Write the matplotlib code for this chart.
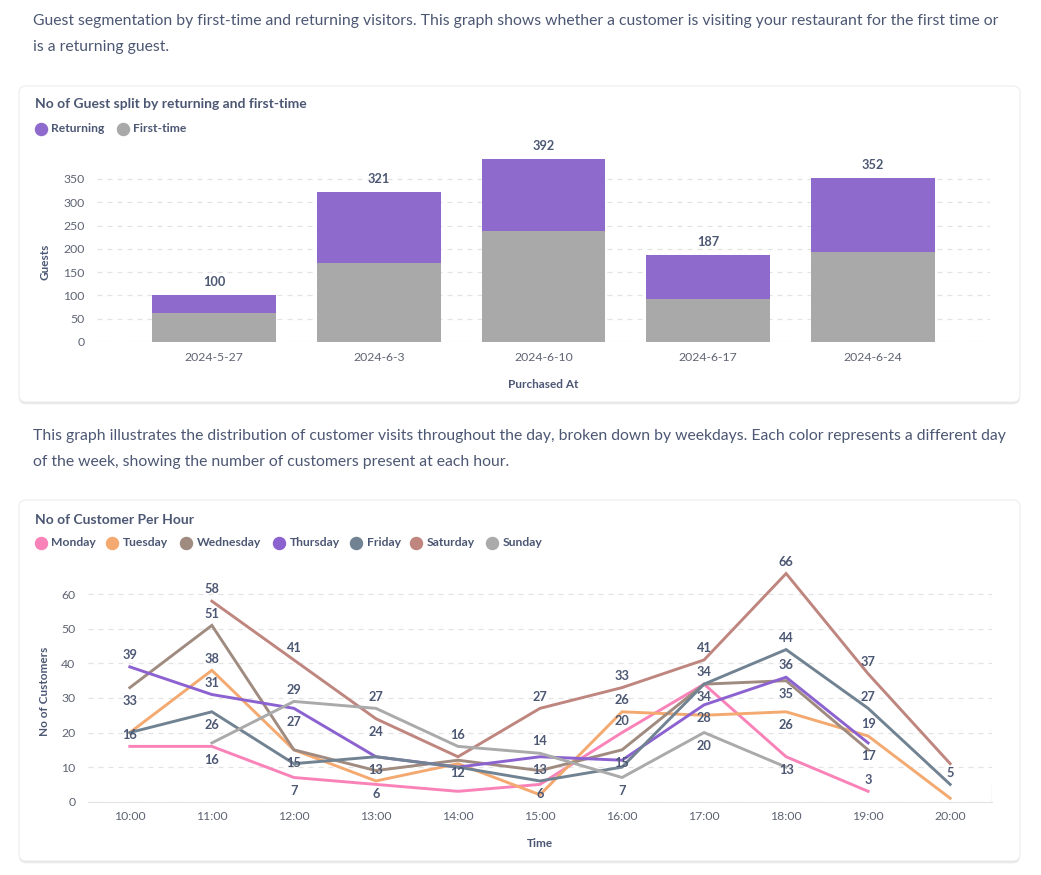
import matplotlib
matplotlib.use("Agg")
import matplotlib.pyplot as plt
from matplotlib.patches import FancyBboxPatch
import numpy as np

plt.rcParams['font.family'] = ['Lato', 'DejaVu Sans']

W, H = 1041, 875
TXT = '#4C5773'
TICK = '#5E6473'
GRID = '#E3E3E3'

# ---- data: guests per week ----
weeks = ['2024-5-27', '2024-6-3', '2024-6-10', '2024-6-17', '2024-6-24']
first_time = [62, 170, 238, 92, 193]
returning = [38, 151, 154, 95, 159]

# ---- data: customers per hour ----
hours = ['10:00', '11:00', '12:00', '13:00', '14:00', '15:00',
         '16:00', '17:00', '18:00', '19:00', '20:00']
days = ['Monday', 'Tuesday', 'Wednesday', 'Thursday', 'Friday', 'Saturday', 'Sunday']
monday = [16, 16, 7, 5, 3, 5, 20, 34, 13, 3, None]
tuesday = [20, 38, 15, 6, 11, 2, 26, 25, 26, 19, 1]
wednesday = [33, 51, 15, 9, 12, 9, 15, 34, 35, 15, None]
thursday = [39, 31, 27, 13, 10, 13, 12, 28, 36, 17, None]
friday = [20, 26, 11, 13, 10, 6, 10, 34, 44, 27, 5]
saturday = [None, 58, 41, 24, 13, 27, 33, 41, 66, 37, 11]
sunday = [None, 17, 29, 27, 16, 14, 7, 20, 10, None, None]
series = [monday, tuesday, wednesday, thursday, friday, saturday, sunday]
day_colors = ['#F983B8', '#F3A96F', '#A08B80', '#8C62D0', '#718392', '#BF857F', '#AAAAAA']

# which points get a value label: (day index, hour index, above?)
shown_labels = [
    (3, 0, True), (2, 0, False), (0, 0, True),
    (5, 1, True), (2, 1, True), (1, 1, True), (3, 1, True), (4, 1, False), (0, 1, False),
    (5, 2, True), (6, 2, True), (3, 2, False), (2, 2, False), (0, 2, False),
    (6, 3, True), (5, 3, False), (3, 3, False), (1, 3, False),
    (6, 4, True), (2, 4, False),
    (5, 5, True), (6, 5, True), (3, 5, False), (4, 5, False),
    (5, 6, True), (1, 6, True), (0, 6, True), (2, 6, False), (6, 6, False),
    (5, 7, True), (0, 7, True), (2, 7, False), (3, 7, False), (6, 7, False),
    (5, 8, True), (4, 8, True), (3, 8, True), (2, 8, False), (1, 8, False), (0, 8, False),
    (5, 9, True), (4, 9, True), (1, 9, True), (3, 9, False), (0, 9, True),
    (4, 10, True),
]

fig = plt.figure(figsize=(W / 100, H / 100), dpi=100)
fig.patch.set_facecolor('white')

# background layer in pixel coordinates
bg = fig.add_axes([0, 0, 1, 1], zorder=0)
bg.set_xlim(0, W)
bg.set_ylim(H, 0)
bg.axis('off')


def card(y0, y1):
    for off, a in [(2.5, 0.05), (1.5, 0.06)]:
        bg.add_patch(FancyBboxPatch((19, y0 + off), 1001, y1 - y0, boxstyle="round,pad=0,rounding_size=7",
                                    fc='#000000', ec='none', alpha=a))
    bg.add_patch(FancyBboxPatch((19, y0), 1001, y1 - y0, boxstyle="round,pad=0,rounding_size=7",
                                fc='white', ec='#EDEDED', lw=0.8))


card(86, 402)
card(500, 861)

bg.text(33, 21, "Guest segmentation by first-time and returning visitors. This graph shows whether a customer "
        "is visiting your restaurant for the first time or", fontsize=11.38, color=TXT, va='center')
bg.text(33, 47, "is a returning guest.", fontsize=11.38, color=TXT, va='center')
bg.text(33, 436, "This graph illustrates the distribution of customer visits throughout the day, broken down by "
        "weekdays. Each color represents a different day", fontsize=11.35, color=TXT, va='center')
bg.text(33, 462, "of the week, showing the number of customers present at each hour.",
        fontsize=11.35, color=TXT, va='center')

bg.text(35, 104.5, "No of Guest split by returning and first-time", fontsize=10, fontweight='bold',
        color=TXT, va='center')
bg.text(35, 519.5, "No of Customer Per Hour", fontsize=10, fontweight='bold', color=TXT, va='center')

# legends
for x, lab, c in [(41, 'Returning', '#8E6ACC'), (123, 'First-time', '#A9A9A9')]:
    bg.scatter([x], [128.5], s=75, color=c, zorder=3)
    bg.text(x + 10.5, 128.5, lab, fontsize=8.7, fontweight='bold', color=TXT, va='center')

leg_x = [41, 112, 186, 279, 356, 416, 492]
for x, lab, c in zip(leg_x, days, day_colors):
    bg.scatter([x], [543], s=75, color=c, zorder=3)
    bg.text(x + 10.5, 543, lab, fontsize=8.7, fontweight='bold', color=TXT, va='center')


def style_axes(ax):
    ax.set_facecolor('none')
    for s in ['top', 'right', 'left']:
        ax.spines[s].set_visible(False)
    ax.tick_params(axis='y', length=0, labelsize=8.8, labelcolor=TICK, pad=9)
    ax.tick_params(axis='x', length=0, labelsize=8.8, labelcolor=TICK, pad=7)
    ax.grid(axis='y', color=GRID, linestyle=(0, (4, 4)), linewidth=0.9)
    ax.set_axisbelow(True)


# ---- bar chart ----
ax1 = fig.add_axes([97 / W, 1 - 342 / H, 893 / W, 191 / H], zorder=1)
style_axes(ax1)
ax1.spines['bottom'].set_visible(False)
x = np.arange(len(weeks))
ax1.bar(x, first_time, width=0.75, color='#A9A9A9', zorder=2)
ax1.bar(x, returning, width=0.75, bottom=first_time, color='#8E6ACC', zorder=2)
totals = [a + b for a, b in zip(first_time, returning)]
for xi, t in zip(x, totals):
    ax1.annotate(str(t), (xi, t), xytext=(0, 9.5), textcoords='offset points', ha='center',
                 va='center', fontsize=9.2, fontweight='bold', color=TXT, annotation_clip=False)
ax1.set_xlim(-0.71, 4.71)
ax1.set_ylim(0, 410)
ax1.set_yticks(range(0, 351, 50))
ax1.set_xticks(x)
ax1.set_xticklabels(weeks)
ax1.set_ylabel('Guests', fontsize=8.5, fontweight='bold', color=TXT)
ax1.set_xlabel('Purchased At', fontsize=8.5, fontweight='bold', color=TXT, labelpad=12)
ax1.yaxis.set_label_coords(-0.052, 0.42)

# ---- line chart ----
ax2 = fig.add_axes([88 / W, 1 - 801.7 / H, 904 / W, 235.1 / H], zorder=1)
style_axes(ax2)
ax2.spines['bottom'].set_color('#E3E3E3')
hx = np.arange(len(hours))
for vals, c in zip(series, day_colors):
    y = np.array([np.nan if v is None else v for v in vals], dtype=float)
    ax2.plot(hx, y, color=c, linewidth=2.1, solid_joinstyle='miter', zorder=3)
for d, h, above in shown_labels:
    v = series[d][h]
    ax2.annotate(str(v), (h, v), xytext=(0, 8.5 if above else -9.5), textcoords='offset points',
                 ha='center', va='center', fontsize=9.2, fontweight='bold', color=TXT,
                 annotation_clip=False, zorder=5)
ax2.set_xlim(-0.51, 10.51)
ax2.set_ylim(0, 68)
ax2.set_yticks(range(0, 61, 10))
ax2.set_xticks(hx)
ax2.set_xticklabels(hours)
ax2.axvline(10.51, ymin=0, ymax=0.065, color='#E3E3E3', lw=1)
ax2.set_ylabel('No of Customers', fontsize=8.5, fontweight='bold', color=TXT)
ax2.yaxis.set_label_coords(-0.042, 0.47)
ax2.set_xlabel('Time', fontsize=8.5, fontweight='bold', color=TXT, labelpad=11)

fig.savefig('out.png', dpi=100, facecolor='white')
